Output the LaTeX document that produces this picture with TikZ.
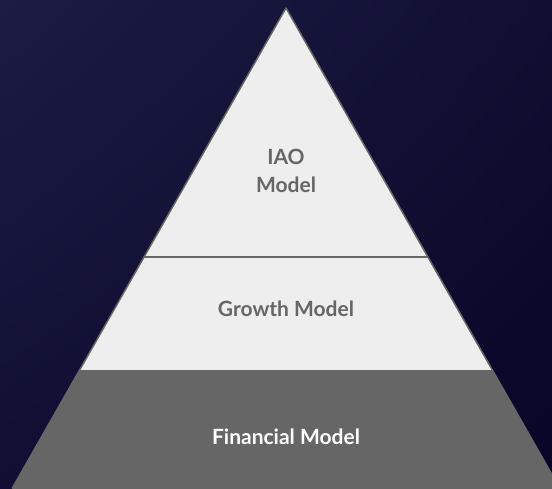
\documentclass[tikz,border=0pt]{standalone}
\usepackage{fontspec}
\setmainfont{Lato}
\usepackage{xcolor}
\usetikzlibrary{positioning,shadings}

\definecolor{navytop}{RGB}{28,28,68}
\definecolor{navymid}{RGB}{16,14,50}
\definecolor{navybot}{RGB}{8,6,38}
\definecolor{layerlight}{RGB}{238,238,238}
\definecolor{layerdark}{RGB}{102,102,102}
\definecolor{edgegrey}{RGB}{102,102,102}

\begin{document}
\begin{tikzpicture}[x=1pt, y=1pt]
        % Define layer styles
        \tikzstyle{layer} = [fill=layerlight]
        \tikzstyle{baselayer} = [fill=layerdark]
        \tikzstyle{edge} = [draw=edgegrey, line width=1.5pt, line join=round]
        \tikzstyle{label} = [font=\fontsize{21}{28}\selectfont\bfseries, align=center, text=layerdark]

        % Background
        \useasboundingbox (0,0) rectangle (552,488);
        \shade[upper left=navytop, upper right=navymid, lower left=navymid, lower right=navybot]
            (0,0) rectangle (552,488);
        \clip (0,0) rectangle (552,488);

        % Corners of the pyramid
        \coordinate (apex) at (286,480);
        \coordinate (baseL) at (12.4,0);
        \coordinate (baseR) at (559.6,0);
        \coordinate (midL) at (144.1,231);
        \coordinate (midR) at (427.9,231);
        \coordinate (lowL) at (79.7,118);
        \coordinate (lowR) at (492.3,118);

        % Layers
        \path [layer] (apex) -- (baseL) -- (baseR) -- cycle;
        \path [baselayer] (lowL) -- (baseL) -- (baseR) -- (lowR) -- cycle;
        \draw [edgegrey, line width=2pt] (midL) -- (midR);
        \path [edge] (apex) -- (baseL) -- (baseR) -- cycle;

        % Text labels
        \node [label] (iao) at (286,317) {IAO\\Model};
        \node [label] (growth) at (286,179) {Growth Model};
        \node [label, text=white] (financial) at (286,51) {Financial Model};

    \end{tikzpicture}
\end{document}
